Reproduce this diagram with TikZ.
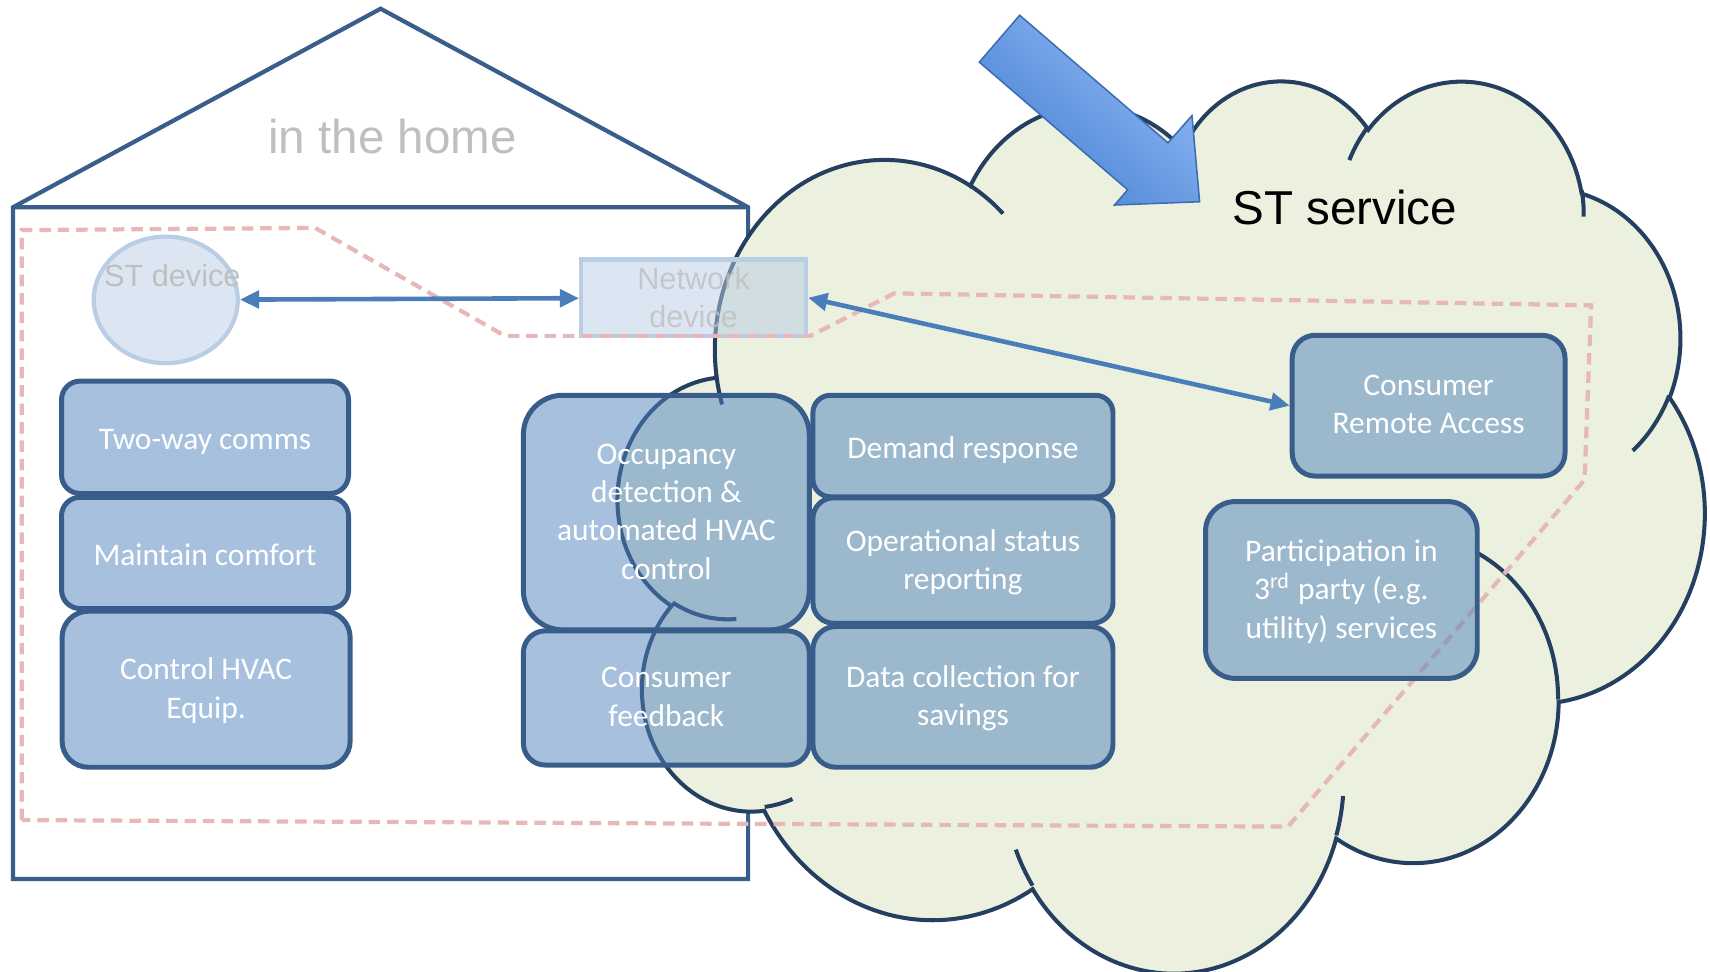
\documentclass[tikz,border=0pt]{standalone}
\usepackage{fontspec}
\setmainfont{Carlito}
\newfontfamily\arialfont{Liberation Sans}
\usepackage{tikz}
\usetikzlibrary{positioning, arrows.meta, shapes.geometric}
\definecolor{houseline}{HTML}{3A5E8C}
\definecolor{cloudfill}{HTML}{EBF1DE}
\definecolor{cloudline}{HTML}{243F60}
\definecolor{boxfill}{HTML}{4F81BD}
\definecolor{boxline}{HTML}{385D8A}
\definecolor{devfill}{HTML}{B9CDE5}
\definecolor{linkblue}{HTML}{4A7EBB}
\definecolor{scopepink}{HTML}{E6B9B8}
\definecolor{greytext}{HTML}{BFBFBF}
\definecolor{arrowlight}{HTML}{92BAF5}
\definecolor{arrowdark}{HTML}{4680D2}
\definecolor{arrowline}{HTML}{3C6DB0}

\begin{document}
\begin{tikzpicture}[x=0.01cm, y=-0.01cm,
      every node/.style={font=\fontsize{8.2}{10}\selectfont},
      fn/.style={draw=boxline, line width=1.3pt, fill=boxfill, fill opacity=0.5,
        text opacity=1, text=white, align=center, inner sep=0pt, text depth=0.6pt,
        execute at begin node={\rule{0pt}{7.2pt}}},
      dev/.style={draw=devfill, line width=1.1pt, fill=devfill, fill opacity=0.5,
        inner sep=0pt},
      devtext/.style={font=\arialfont\fontsize{8}{10}\selectfont, text=greytext,
        align=center},
      link/.style={draw=linkblue, line width=1.2pt,
        >={Triangle[length=5pt,width=4.5pt]}, <->},
      cloudedge/.style={draw=cloudline, line width=1.05pt},
      title/.style={font=\arialfont\fontsize{12.4}{14}\selectfont}]

    \useasboundingbox (0,0) rectangle (1568,891);

    % house
    \draw[houseline, line width=1.1pt]
      (12,806) -- (12,190) -- (349,8) -- (686,190) -- (686,806) -- cycle
      (12,190) -- (686,190);

    % cloud (office cloud outline, 4320 x 4320 frame)
    \begin{scope}[shift={(567,72)}, x=0.0023056cm, y=-0.0018935cm]
      \filldraw[cloudedge, fill=cloudfill] (390,1437)
        foreach \rx/\ry/\st/\sw
          [evaluate=\st as \ts using {atan2(\rx*sin(\st),\ry*cos(\st))},
           evaluate=\sw as \dt using {mod(atan2(\rx*sin(\st+\sw),\ry*cos(\st+\sw))-\ts+720,360)}]
        in {675.3/919.0/-190.4875/123.7805, 533.3/726.7/-144.1024/89.9452,
            436.5/594.5/-145.8079/99.7230, 485.7/659.5/-130.9861/117.2417,
            533.3/727.3/-78.7089/109.0269, 677.5/922.0/-46.2673/130.2690,
            578.5/786.7/0.6250/114.0333, 675.2/921.5/22.4516/115.1726,
            772.0/1054.3/66.2426/75.7110, 436.0/591.8/-274.9421/146.7356,
            434.5/594.5/-246.8285/152.5189}
        { arc[start angle=\ts, delta angle=\dt, x radius=\rx, y radius=\ry] } -- cycle;
      \foreach \px/\py/\rx/\ry/\st/\sw
          [evaluate=\st as \ts using {atan2(\rx*sin(\st),\ry*cos(\st))},
           evaluate=\sw as \dt using {mod(atan2(\rx*sin(\st+\sw),\ry*cos(\st+\sw))-\ts+720,360)}]
        in {469.3/2617.7/434.5/594.5/86.742/26.4295,
            692.8/3489.9/436.0/591.8/73.6105/11.4475,
            1647.8/3909.0/675.2/921.5/137.6242/14.0811,
            2882.7/3475.1/675.2/921.5/6.4533/15.9984,
            3412.9/2295.4/578.5/786.7/-70.2924/70.9174,
            4179.8/1535.4/533.3/727.3/30.3180/27.7515,
            3832.4/542.6/485.7/659.5/-13.7443/14.8589,
            2907.8/395.2/485.7/659.5/-149.1815/18.1954,
            2214.1/472.0/436.5/594.5/-163.4943/17.6864,
            1400.0/519.2/675.3/919.0/-66.7070/12.3194,
            412.7/1578.9/675.3/919.0/157.6544/11.8582}
        \draw[cloudedge] (\px,\py) arc[start angle=\ts, delta angle=\dt, x radius=\rx, y radius=\ry];
    \end{scope}

    \node[title, text=greytext] (homelabel) at (360,125) {in the home};
    \node[title, text=black] (servicelabel) at (1233,190) {ST service};

    % devices
    \node[dev, ellipse, minimum width=1.32cm, minimum height=1.16cm] (stdev) at (152,275) {};
    \node[devtext] (stdevtext) at (158,253) {ST device};
    \node[dev, devtext, text opacity=0.8, minimum width=2.06cm, minimum height=0.70cm]
      (netdev) at (636,273) {Network\\device};

    % boundary
    \draw[scopepink, line width=1.1pt, dash pattern=on 3pt off 1.8pt]
      (20,752) -- (20,211) -- (289,209) -- (463,308) -- (743,308) -- (820,269)
      -- (1459,280) -- (1453,440) -- (1181,758) -- cycle;

    % in the home
    \node[fn, minimum width=2.63cm, minimum height=1.03cm, rounded corners=1.7mm]
      (twoway) at (188,401) {Two-way comms};
    \node[fn, minimum width=2.63cm, minimum height=1.02cm, rounded corners=1.7mm]
      (comfort) at (188,507) {Maintain comfort};
    \node[fn, minimum width=2.64cm, minimum height=1.43cm, rounded corners=2.4mm]
      (hvac) at (189,632) {Control HVAC\\Equip.};

    % middle
    \node[fn, minimum width=2.62cm, minimum height=2.15cm, rounded corners=3.6mm]
      (occupancy) at (611,470) {Occupancy\\detection \&\\automated HVAC\\control};
    \node[fn, minimum width=2.62cm, minimum height=1.23cm, rounded corners=2mm]
      (feedback) at (611,640) {Consumer\\feedback};
    \node[fn, minimum width=2.75cm, minimum height=0.93cm, rounded corners=1.6mm]
      (demand) at (883,409) {Demand response};
    \node[fn, minimum width=2.75cm, minimum height=1.15cm, rounded corners=1.9mm]
      (status) at (883,514) {Operational status\\reporting};
    \node[fn, minimum width=2.75cm, minimum height=1.29cm, rounded corners=2.1mm]
      (savings) at (883,639) {Data collection for\\savings};

    % in the cloud
    \node[fn, minimum width=2.50cm, minimum height=1.29cm, rounded corners=2.1mm]
      (remote) at (1310,372) {Consumer\\Remote Access};
    \node[fn, minimum width=2.49cm, minimum height=1.62cm, rounded corners=2.7mm]
      (thirdparty) at (1230,541) {Participation in\\3\textsuperscript{rd} party (e.g.\\utility) services};

    \draw[link] (stdev) -- (netdev);
    \draw[link] (netdev.east) -- (remote.west);

    % big arrow
    \draw[draw=arrowline, line width=0.4pt, top color=arrowlight, bottom color=arrowdark,
      shading angle=-41]
      (935,14) -- (1071,131) -- (1093,106) -- (1100,185) -- (1022,188)
      -- (1034,174) -- (898,57) -- cycle;
  \end{tikzpicture}
\end{document}
